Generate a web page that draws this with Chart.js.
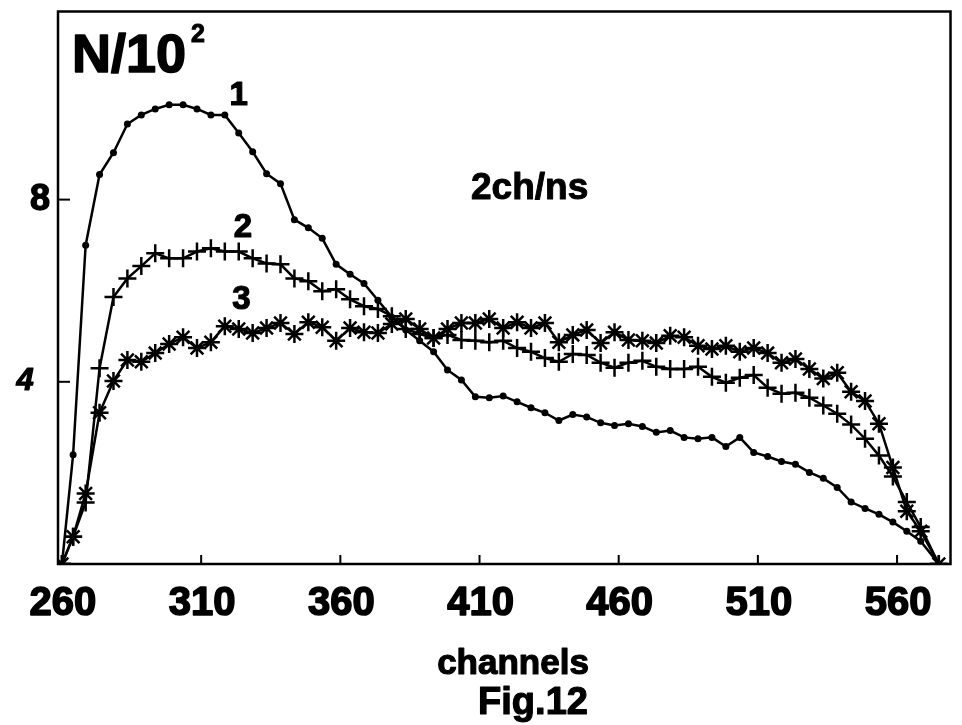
<!DOCTYPE html>
<html>
<head>
<meta charset="utf-8">
<title>Fig.12</title>
<script src="https://cdn.jsdelivr.net/npm/chart.js"></script>
<style>
  html, body { margin: 0; padding: 0; background: #fff; }
  canvas { display: block; }
</style>
</head>
<body>
<canvas id="fig12" width="962" height="725"></canvas>
<script>
// channel positions of the measured points
const channels = [260, 264, 268.5, 273.5, 278.5, 283.5, 288.5, 293.5, 298.5, 303.5,
  308.5, 313.5, 318.5, 323.5, 328.5, 333.5, 338.5, 343.5, 348.5, 353.5,
  358.5, 363.5, 368.5, 373.5, 378.5, 383.5, 388.5, 393.5, 398.5, 403.5,
  408.5, 413.5, 418.5, 423.5, 428.5, 433.5, 438.5, 443.5, 448.5, 453.5,
  458.5, 463.5, 468.5, 473.5, 478.5, 483.5, 488.5, 493.5, 498.5, 503.5,
  508.5, 513.5, 518.5, 523.5, 528.5, 533.5, 538.5, 543.5, 548.5, 553.5,
  558.5, 563.5, 568.5, 575];

// counts N/10^2, curve 1 (dots)
const curve1 = [0, 2.4, 7.0, 8.55, 9.03, 9.66, 9.86, 9.99, 10.08, 10.08,
  9.99, 9.86, 9.86, 9.46, 9.05, 8.57, 8.35, 7.56, 7.38, 7.15,
  6.58, 6.36, 6.16, 5.79, 5.42, 5.14, 4.90, 4.66, 4.26, 4.04,
  3.67, 3.65, 3.69, 3.56, 3.43, 3.32, 3.15, 3.28, 3.23, 3.10,
  3.04, 3.08, 3.02, 2.89, 2.93, 2.78, 2.75, 2.78, 2.58, 2.78,
  2.45, 2.36, 2.25, 2.19, 2.01, 1.88, 1.68, 1.36, 1.22, 1.09,
  0.92, 0.72, 0.50, 0];

// curve 2 (crosses)
const curve2 = [0, 0.6, 1.35, 4.3, 5.86, 6.27, 6.54, 6.82, 6.71, 6.71,
  6.86, 6.93, 6.86, 6.86, 6.71, 6.60, 6.58, 6.27, 6.21, 5.99,
  6.03, 5.81, 5.66, 5.60, 5.44, 5.16, 5.05, 4.96, 5.03, 4.92,
  4.90, 4.87, 4.90, 4.74, 4.66, 4.52, 4.44, 4.61, 4.59, 4.42,
  4.31, 4.42, 4.46, 4.33, 4.28, 4.28, 4.33, 4.11, 3.98, 4.09,
  4.15, 3.87, 3.74, 3.76, 3.65, 3.48, 3.30, 3.06, 2.75, 2.38,
  1.92, 1.36, 0.81, 0];

// curve 3 (stars)
const curve3 = [0, 0.6, 1.55, 3.32, 4.02, 4.48, 4.44, 4.63, 4.83, 4.98,
  4.74, 4.87, 5.22, 5.16, 5.07, 5.18, 5.29, 5.05, 5.31, 5.20,
  4.90, 5.18, 5.09, 5.07, 5.27, 5.38, 5.16, 4.96, 5.16, 5.29,
  5.29, 5.38, 5.18, 5.31, 5.18, 5.29, 4.87, 5.03, 5.14, 4.85,
  5.09, 4.92, 4.90, 4.85, 5.01, 4.98, 4.79, 4.72, 4.79, 4.66,
  4.74, 4.63, 4.42, 4.50, 4.28, 4.07, 4.20, 3.78, 3.58, 3.08,
  2.12, 1.16, 0.72, 0];

const xTicks = [260, 310, 360, 410, 460, 510, 560];
const yTicks = [4, 8];

const toPoints = vals => channels.map((c, i) => ({ x: c, y: vals[i] }));

const FONT = '"Liberation Sans", Arial, sans-serif';

// heavy lettering: fill plus a thin outline
function heavyText(ctx, text, x, y, font, weight) {
  ctx.font = font;
  ctx.lineWidth = weight;
  ctx.strokeText(text, x, y);
  ctx.fillText(text, x, y);
}

// frame, inner ticks and all the lettering
const framePlugin = {
  id: 'frame',
  afterDatasetsDraw(chart) {
    const { ctx, chartArea: a, scales: { x, y } } = chart;
    ctx.save();
    ctx.strokeStyle = '#000';
    ctx.fillStyle = '#000';
    ctx.lineWidth = 2.5;
    ctx.strokeRect(a.left, a.top, a.right - a.left, a.bottom - a.top);

    ctx.lineWidth = 2;
    xTicks.forEach(v => {
      const px = x.getPixelForValue(v);
      ctx.beginPath();
      ctx.moveTo(px, a.bottom);
      ctx.lineTo(px, a.bottom - 9);
      ctx.stroke();
    });
    yTicks.forEach(v => {
      const py = y.getPixelForValue(v);
      ctx.beginPath();
      ctx.moveTo(a.left, py);
      ctx.lineTo(a.left + 12, py);
      ctx.stroke();
    });

    ctx.lineJoin = 'round';
    ctx.textBaseline = 'middle';
    ctx.textAlign = 'center';
    xTicks.forEach(v => {
      heavyText(ctx, String(v), x.getPixelForValue(v) + 1, 604, 'bold 40px ' + FONT, 1.6);
    });

    heavyText(ctx, '8', 40, y.getPixelForValue(8), 'bold 36px ' + FONT, 1.4);
    heavyText(ctx, '4', 25, y.getPixelForValue(4), 'italic bold 31px ' + FONT, 1.2);

    // axis title and figure caption
    heavyText(ctx, 'channels', 513, 664, 'bold 35px ' + FONT, 1.2);
    heavyText(ctx, 'Fig.12', 533, 704, 'bold 38px ' + FONT, 1.2);

    // N/10^2 in the corner
    ctx.textAlign = 'left';
    heavyText(ctx, 'N/10', 72, 57, 'bold 54px ' + FONT, 1.6);
    ctx.font = 'bold 54px ' + FONT;
    const w = ctx.measureText('N/10').width;
    heavyText(ctx, '2', 72 + w + 5, 35, 'bold 25px ' + FONT, 1);

    // curve numbers and the dispersion note
    ctx.textAlign = 'center';
    const numFont = 'bold 33px ' + FONT;
    heavyText(ctx, '1', x.getPixelForValue(323.5), y.getPixelForValue(10.27), numFont, 1.2);
    heavyText(ctx, '2', x.getPixelForValue(325), y.getPixelForValue(7.37), numFont, 1.2);
    heavyText(ctx, '3', x.getPixelForValue(324.5), y.getPixelForValue(5.79), numFont, 1.2);
    heavyText(ctx, '2ch/ns', x.getPixelForValue(428), y.getPixelForValue(8.24), 'bold 37px ' + FONT, 1);
    ctx.restore();
  }
};

new Chart(document.getElementById('fig12'), {
  type: 'line',
  data: {
    datasets: [
      {
        label: '1',
        data: toPoints(curve1),
        borderColor: '#000',
        backgroundColor: '#000',
        borderWidth: 2.5,
        pointStyle: 'circle',
        pointRadius: 3.5,
        pointBorderWidth: 0,
        tension: 0
      },
      {
        label: '2',
        data: toPoints(curve2),
        borderColor: '#000',
        backgroundColor: '#000',
        borderWidth: 2.5,
        pointStyle: 'cross',
        pointRadius: 9,
        pointBorderWidth: 2.5,
        tension: 0
      },
      {
        label: '3',
        data: toPoints(curve3),
        borderColor: '#000',
        backgroundColor: '#000',
        borderWidth: 2.5,
        pointStyle: 'star',
        pointRadius: 9,
        pointBorderWidth: 2.5,
        tension: 0
      }
    ]
  },
  options: {
    responsive: false,
    animation: false,
    layout: { padding: { left: 58, top: 9, right: 5, bottom: 161 } },
    plugins: {
      legend: { display: false },
      tooltip: { enabled: false }
    },
    scales: {
      x: { type: 'linear', min: 258.57, max: 579.2, display: false },
      y: { type: 'linear', min: 0, max: 12.13, display: false }
    }
  },
  plugins: [framePlugin]
});
</script>
</body>
</html>
